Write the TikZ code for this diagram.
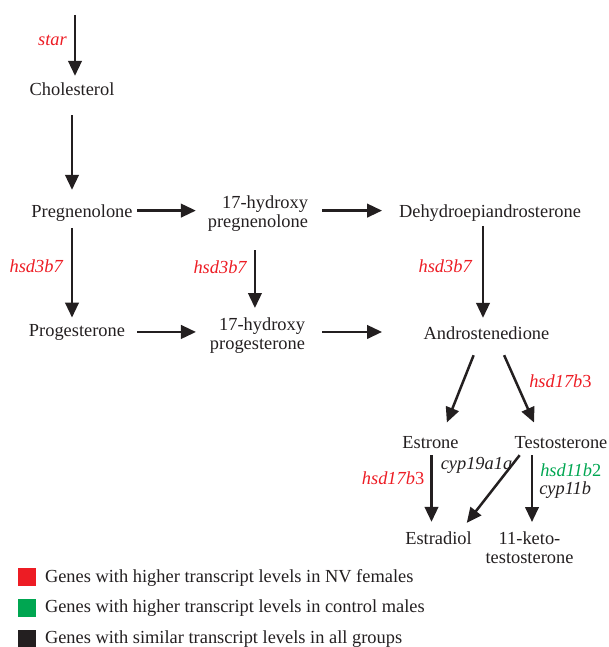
\documentclass[tikz,border=0pt]{standalone}
\usepackage{fontspec}
\setmainfont{Liberation Serif}
\usetikzlibrary{arrows.meta,positioning}

\definecolor{inkblack}{RGB}{35,31,32}
\definecolor{femred}{RGB}{237,28,36}
\definecolor{malegreen}{RGB}{0,166,81}

\tikzset{
  cmpd/.style={font=\fontsize{18.4}{19}\selectfont, text=inkblack, inner sep=0pt, outer sep=0pt},
  gene/.style={font=\fontsize{18.4}{19}\selectfont\itshape, inner sep=0pt, text=inkblack},
  upfem/.style={gene, text=femred},
  upmale/.style={gene, text=malegreen},
  keybox/.style={draw=none, minimum size=18pt, inner sep=0pt},
}

\begin{document}
\begin{tikzpicture}[x=1pt,y=-1pt,>={Triangle[length=15pt,width=13.5pt]},
  flux/.style={->, color=inkblack, line width=2.5pt}]
   \useasboundingbox (0,0) rectangle (608,647);
   % compounds
   \node[cmpd, anchor=base] (chol) at (72,96) {Cholesterol};
   \node[cmpd, anchor=base] (preg) at (82,217) {Pregnenolone};
   \node[cmpd, anchor=north east, align=right] (ohpreg) at (308,195.4) {17-hydroxy\\pregnenolone};
   \node[cmpd, anchor=base] (dhea) at (490,217) {Dehydroepiandrosterone};
   \node[cmpd, anchor=base] (prog) at (77,336) {Progesterone};
   \node[cmpd, anchor=north east, align=right] (ohprog) at (305,317.4) {17-hydroxy\\progesterone};
   \node[cmpd, anchor=base] (andro) at (486.5,339) {Androstenedione};
   \node[cmpd, anchor=base] (estrone) at (430.5,448) {Estrone};
   \node[cmpd, anchor=base] (testo) at (561,448) {Testosterone};
   \node[cmpd, anchor=base] (estradiol) at (438.5,544) {Estradiol};
   \node[cmpd, anchor=north, align=center] (keto) at (529.5,532) {11-keto-\\testosterone};
   \coordinate (startop) at (75,15);
   \coordinate (ketotop) at ([xshift=2.5pt]testo.south -| keto.north);

   \path[flux]
    (startop) edge[shorten >=7.4pt] node[upfem, pos=0.44, anchor=base east, xshift=-7pt] {star} (startop |- chol.north)
    (chol.south) edge[shorten <=19pt, shorten >=14.4pt] (chol.south |- preg.north)
    (chol.south |- preg.south) edge[shorten <=7pt, shorten >=6.4pt] node[upfem, pos=0.5, anchor=base east, xshift=-8pt] {hsd3b7} (chol.south |- prog.north)
    ([yshift=2pt]preg.east) edge[shorten <=4.5pt, shorten >=12pt] ([yshift=2pt]preg.east -| ohpreg.west)
    ([yshift=2pt]preg.east -| ohpreg.east) edge[shorten <=14pt, shorten >=17pt] ([yshift=2pt]preg.east -| dhea.west)
    ([xshift=-3pt]ohpreg.south) edge[shorten <=19pt, shorten >=9.4pt] node[upfem, pos=0.49, anchor=base east, xshift=-7pt] {hsd3b7} ([xshift=-3pt]ohpreg.south |- ohprog.north)
    ([xshift=-7pt]dhea.south) edge[shorten <=5pt, shorten >=8.4pt] node[upfem, pos=0.49, anchor=base east, xshift=-10pt] {hsd3b7} ([xshift=-7pt]dhea.south |- andro.north)
    (prog.east) edge[shorten <=12pt, shorten >=14pt] (prog.east -| ohprog.west)
    (prog.east -| ohprog.east) edge[shorten <=17pt, shorten >=41.6pt] (prog.east -| andro.west)
    ([xshift=-6.5pt]andro.south) edge[shorten <=17.3pt, shorten >=14.5pt] ([xshift=11pt]estrone.north)
    ([xshift=10.5pt]andro.south) edge[shorten <=17.5pt, shorten >=14.7pt] node[upfem, pos=0.5, anchor=base west, xshift=9.5pt] {hsd17b\textup{3}} ([xshift=-21pt]testo.north)
    ([xshift=1pt]estrone.south) edge[shorten <=7pt, shorten >=9.4pt]
       node[upfem, pos=0.44, anchor=base east, xshift=-6pt] {hsd17b\textup{3}}
       node[gene, pos=0.26, anchor=base west, xshift=8pt] {cyp19a1a} ([xshift=1pt]estrone.south |- estradiol.north)
    ([xshift=10.5pt]testo.south west) edge[shorten <=8.9pt, shorten >=10.6pt] ([xshift=-11.5pt]estradiol.north east)
    (ketotop) edge[shorten <=7pt, shorten >=10pt]
       node[upmale, pos=0.34, anchor=base west, xshift=7pt] {hsd11b\textup{2}}
       node[gene, pos=0.55, anchor=base west, xshift=6pt] {cyp11b} ([xshift=2.5pt]keto.north);

   % legend
   \node[keybox, fill=femred] (keyfem) at (27,577) {};
   \node[keybox, fill=malegreen] (keymale) at (27,608) {};
   \node[keybox, fill=inkblack] (keysame) at (27,639) {};
   \node[cmpd, anchor=base west] (keyfemtext) at (45,582) {Genes with higher transcript levels in NV females};
   \node[cmpd, anchor=base west] (keymaletext) at (45,612) {Genes with higher transcript levels in control males};
   \node[cmpd, anchor=base west] (keysametext) at (45,643) {Genes with similar transcript levels in all groups};
\end{tikzpicture}
\end{document}
